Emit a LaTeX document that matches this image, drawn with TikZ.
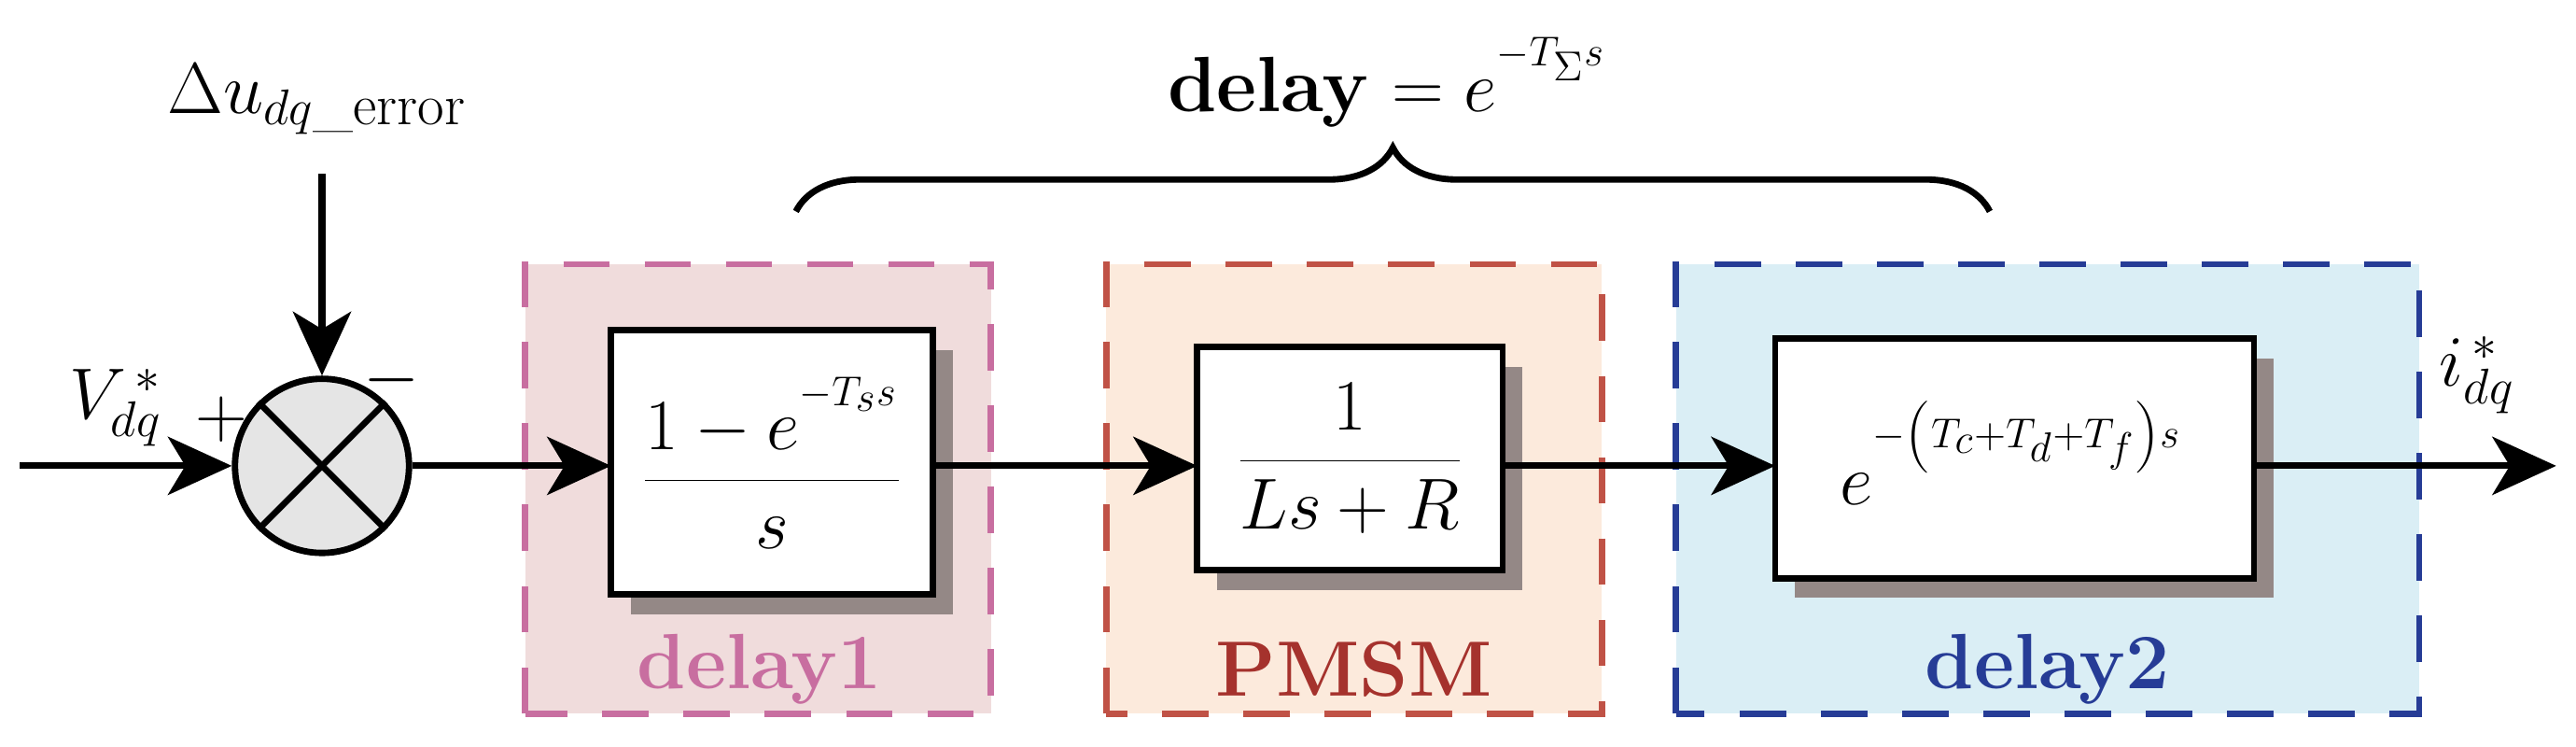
\documentclass[tikz,border=0pt]{standalone}
\usetikzlibrary{arrows.meta,decorations.pathreplacing}
\definecolor{pinkb}{RGB}{200,110,160}
\definecolor{pinkf}{RGB}{240,220,220}
\definecolor{redb}{RGB}{192,82,70}
\definecolor{redt}{RGB}{165,50,45}
\definecolor{peachf}{RGB}{252,234,220}
\definecolor{blueb}{RGB}{38,60,150}
\definecolor{bluef}{RGB}{218,238,245}
\definecolor{shadowc}{RGB}{148,136,134}
\begin{document}
\begin{tikzpicture}[x=0.02cm,y=0.02cm,font=\fontsize{27}{32}\selectfont]
\tikzset{area/.style={draw, line width=2.2pt, dash pattern=on 16pt off 12pt},
blk/.style={draw, fill=white, line width=2.2pt},
sig/.style={line width=2.3pt, -{Stealth[length=22pt,width=20pt,inset=6pt]}}}
\useasboundingbox (0,0) rectangle (1560,452);
% regions
\filldraw[area, draw=pinkb, fill=pinkf] (318,20) rectangle (600,292);
\filldraw[area, draw=redb, fill=peachf] (670,20) rectangle (970,292);
\filldraw[area, draw=blueb, fill=bluef] (1015,20) rectangle (1465,292);
\node[text=pinkb] (l1) at (460,47) {\textbf{delay1}};
\node[text=redt] (l2) at (820,47) {\textbf{PMSM}};
\node[text=blueb] (l3) at (1240,47) {\textbf{delay2}};
% shadows
\fill[shadowc] (382,80) rectangle (577,240);
\fill[shadowc] (737,95) rectangle (922,230);
\fill[shadowc] (1087,90) rectangle (1377,235);
% blocks
\draw[blk] (370,92) rectangle (565,252);
\node (f1) at (467.5,172) {$\displaystyle\frac{1-e^{^{-T_s s}}}{s}$};
\draw[blk] (725,107) rectangle (910,242);
\node (f2) at (817.5,174.5) {$\displaystyle\frac{1}{Ls+R}$};
\draw[blk] (1075,102) rectangle (1365,247);
\node (f3) at (1218,178) {$e^{^{-\left(T_c+T_d+T_f\right)s}}$};
\coordinate (b1w) at (370,170);
\coordinate (b1e) at (565,170);
\coordinate (b2w) at (725,170);
\coordinate (b2e) at (910,170);
\coordinate (b3w) at (1075,170);
\coordinate (b3e) at (1365,170);
% sum junction
\node[draw, circle, fill=gray!20, line width=2.2pt, minimum size=60, inner sep=0] (sum) at (195,170) {};
\draw[line width=2.2pt] (sum.north west) -- (sum.south east) (sum.north east) -- (sum.south west);
\coordinate (in) at (12,170);
\coordinate (top) at (195,347);
\coordinate (out) at (1548,170);
\draw[sig] (in) -- (sum);
\draw[sig] (top) -- (sum);
\draw[sig] (sum) -- (b1w);
\draw[sig] (b1e) -- (b2w);
\draw[sig] (b2e) -- (b3w);
\draw[sig] (b3e) -- (out);
% labels
\node (vin) at (70,205) {$V^{\,*}_{dq}$};
\node (plus) at (134,198) {$+$};
\node (minus) at (237,222) {$-$};
\node (du) at (192,392) {$\Delta u_{dq\mbox{\fontsize{20}{22}\selectfont\_error}}$};
\node (iout) at (1500,225) {$i^{\,*}_{dq}$};
\draw[line width=2.2pt, decorate, decoration={brace, amplitude=22pt}] (482,324) -- (1205,324) node[midway] (brc) {};
\node (dl) at (840,402) {\textbf{delay} $=e^{^{-T_\Sigma s}}$};
\end{tikzpicture}
\end{document}
